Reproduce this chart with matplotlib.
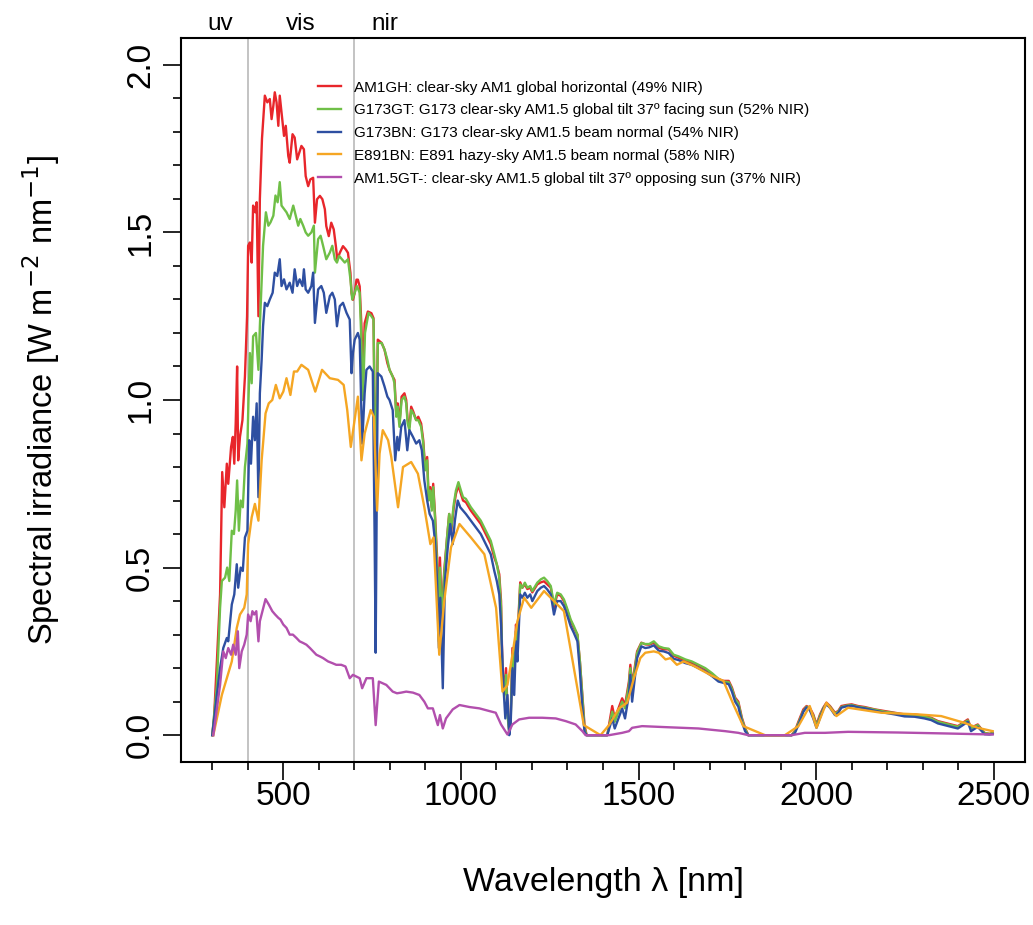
import numpy as np
import matplotlib
matplotlib.use("Agg")
import matplotlib.pyplot as plt
from matplotlib.ticker import FixedLocator
import matplotlib.transforms as mtransforms

plt.rcParams['font.family'] = ['Liberation Sans', 'DejaVu Sans']

# AM1GH: clear-sky AM1 global horizontal
AM1GH_WL = [300, 305, 313, 322, 328, 334, 341, 345, 353, 358, 362, 366, 370, 373, 378, 385, 392, 398,
            401, 406, 411, 415, 421, 425, 430, 434, 440, 448, 455, 462, 467, 472, 476, 481, 486, 490,
            495, 502, 507, 514, 518, 526, 532, 539, 545, 551, 558, 563, 570, 576, 584, 589, 595, 603,
            610, 617, 621, 628, 635, 642, 648, 652, 659, 668, 676, 682, 689, 692, 696, 701, 706, 710,
            715, 720, 724, 729, 734, 738, 748, 754, 760, 766, 777, 785, 793, 799, 808, 813, 818, 822,
            827, 833, 841, 846, 850, 855, 860, 866, 874, 880, 888, 894, 899, 905, 909, 914, 918, 922,
            927, 933, 938, 941, 946, 953, 961, 967, 972, 980, 986, 993, 1000, 1006, 1014, 1028, 1042,
            1056, 1070, 1084, 1094, 1101, 1108, 1113, 1117, 1122, 1127, 1131, 1136, 1140, 1145, 1150,
            1155, 1159, 1167, 1173, 1180, 1187, 1195, 1201, 1215, 1225, 1234, 1243, 1253, 1262, 1271,
            1281, 1290, 1300, 1309, 1318, 1328, 1335, 1342, 1348, 1354, 1412, 1426, 1433, 1440, 1454,
            1462, 1473, 1477, 1482, 1496, 1508, 1519, 1530, 1543, 1557, 1571, 1585, 1599, 1613, 1632,
            1650, 1669, 1688, 1707, 1725, 1739, 1754, 1763, 1772, 1781, 1791, 1800, 1809, 1931, 1940,
            1950, 1964, 1973, 1982, 1992, 2001, 2011, 2020, 2029, 2039, 2053, 2062, 2071, 2085, 2100,
            2118, 2137, 2165, 2193, 2221, 2249, 2277, 2305, 2324, 2343, 2361, 2380, 2399, 2427, 2436,
            2455, 2474, 2488, 2497]
AM1GH_E = [0.00, 0.05, 0.22, 0.42, 0.785, 0.68, 0.81, 0.75, 0.86, 0.89, 0.81, 0.93, 1.10, 0.82, 0.89, 0.94, 1.07, 1.25,
           1.46, 1.47, 1.41, 1.58, 1.56, 1.59, 1.25, 1.60, 1.78, 1.908, 1.888, 1.898, 1.838, 1.878, 1.918, 1.888, 1.818, 1.908,
           1.858, 1.788, 1.818, 1.728, 1.708, 1.793, 1.783, 1.718, 1.738, 1.758, 1.748, 1.668, 1.638, 1.658, 1.663, 1.529, 1.599, 1.609,
           1.599, 1.569, 1.519, 1.489, 1.529, 1.509, 1.459, 1.419, 1.439, 1.459, 1.449, 1.439, 1.379, 1.319, 1.299, 1.319, 1.359, 1.359,
           1.339, 1.219, 1.05, 1.229, 1.249, 1.264, 1.259, 1.244, 0.70, 1.18, 1.17, 1.15, 1.11, 1.09, 1.07, 1.06, 0.96, 0.99,
           0.93, 1.01, 1.02, 1.00, 0.94, 0.92, 0.98, 0.965, 0.94, 0.95, 0.93, 0.88, 0.80, 0.83, 0.71, 0.74, 0.68, 0.75,
           0.66, 0.53, 0.31, 0.53, 0.36, 0.49, 0.59, 0.66, 0.60, 0.68, 0.72, 0.745, 0.72, 0.70, 0.695, 0.67, 0.65,
           0.63, 0.60, 0.57, 0.53, 0.51, 0.48, 0.40, 0.19, 0.14, 0.20, 0.08, 0.01, 0.05, 0.26, 0.19,
           0.33, 0.29, 0.456, 0.44, 0.45, 0.436, 0.44, 0.426, 0.45, 0.456, 0.459, 0.45, 0.44, 0.38, 0.42,
           0.416, 0.40, 0.37, 0.34, 0.32, 0.30, 0.22, 0.12, 0.03, 0.0, 0.0, 0.087, 0.05, 0.07, 0.11,
           0.09, 0.16, 0.21, 0.15, 0.25, 0.276, 0.271, 0.27, 0.276, 0.261, 0.256, 0.256, 0.237, 0.231, 0.222,
           0.216, 0.207, 0.197, 0.182, 0.167, 0.162, 0.162, 0.142, 0.112, 0.10, 0.052, 0.022, 0.0, 0.0, 0.012,
           0.04, 0.077, 0.087, 0.082, 0.062, 0.032, 0.062, 0.082, 0.097, 0.087, 0.067, 0.072, 0.087, 0.09, 0.092,
           0.087, 0.084, 0.077, 0.072, 0.067, 0.062, 0.062, 0.057, 0.052, 0.042, 0.037, 0.032, 0.027, 0.047, 0.022,
           0.032, 0.007, 0.004, 0.007]

# G173GT: G173 clear-sky AM1.5 global tilt 37 deg facing sun
G173GT_WL = [300, 313, 322, 327, 336, 342, 348, 355, 361, 366, 370, 375, 380, 386, 392, 399, 402, 406,
             411, 415, 423, 430, 434, 443, 451, 458, 464, 472, 478, 484, 490, 495, 502, 509, 518, 528,
             535, 542, 548, 556, 563, 570, 579, 586, 589, 598, 605, 612, 621, 631, 638, 645, 651, 657,
             673, 682, 689, 694, 701, 707, 715, 720, 724, 730, 735, 740, 748, 754, 760, 766, 777, 785,
             793, 799, 808, 813, 818, 822, 827, 833, 841, 846, 850, 855, 860, 866, 874, 880, 888, 894,
             899, 905, 909, 914, 918, 922, 927, 933, 938, 941, 946, 953, 961, 967, 972, 980, 986, 993,
             1000, 1006, 1014, 1028, 1042, 1056, 1070, 1084, 1094, 1101, 1108, 1113, 1117, 1122, 1127,
             1131, 1136, 1140, 1145, 1150, 1155, 1159, 1167, 1173, 1180, 1187, 1195, 1201, 1215, 1225,
             1234, 1243, 1253, 1262, 1271, 1281, 1290, 1300, 1309, 1318, 1328, 1335, 1342, 1348, 1354,
             1412, 1426, 1433, 1440, 1454, 1462, 1473, 1477, 1482, 1496, 1508, 1519, 1530, 1543, 1557,
             1571, 1585, 1599, 1613, 1632, 1650, 1669, 1688, 1707, 1725, 1739, 1754, 1763, 1772, 1781,
             1791, 1800, 1809, 1931, 1940, 1950, 1964, 1973, 1982, 1992, 2001, 2011, 2020, 2029, 2039,
             2053, 2062, 2071, 2085, 2100, 2118, 2137, 2165, 2193, 2221, 2249, 2277, 2305, 2324, 2343,
             2361, 2380, 2399, 2427, 2436, 2455, 2474, 2488, 2497]
G173GT_E = [0.0, 0.15, 0.38, 0.46, 0.47, 0.50, 0.46, 0.61, 0.60, 0.67, 0.76, 0.61, 0.70, 0.68, 0.80, 0.87, 1.00, 1.14,
            1.05, 1.19, 1.20, 1.09, 1.22, 1.46, 1.56, 1.52, 1.53, 1.55, 1.61, 1.59, 1.65, 1.58, 1.57, 1.56, 1.54, 1.58,
            1.55, 1.52, 1.54, 1.52, 1.50, 1.49, 1.50, 1.52, 1.38, 1.48, 1.49, 1.46, 1.42, 1.44, 1.46, 1.42, 1.41, 1.43,
            1.41, 1.42, 1.36, 1.30, 1.32, 1.34, 1.32, 1.17, 1.00, 1.20, 1.23, 1.26, 1.25, 1.24, 0.68, 1.17, 1.17, 1.15,
            1.12, 1.09, 1.07, 1.05, 0.95, 0.98, 0.92, 1.00, 1.01, 0.99, 0.93, 0.91, 0.97, 0.96, 0.94, 0.94, 0.92, 0.87,
            0.79, 0.82, 0.70, 0.73, 0.67, 0.74, 0.65, 0.50, 0.28, 0.50, 0.33, 0.48, 0.59, 0.66, 0.61, 0.69, 0.73, 0.755,
            0.73, 0.71, 0.705, 0.68, 0.66, 0.64, 0.61, 0.58, 0.54, 0.51, 0.47, 0.38, 0.17, 0.12, 0.18,
            0.06, 0.01, 0.04, 0.24, 0.18, 0.31, 0.27, 0.45, 0.44, 0.455, 0.44, 0.445, 0.43, 0.455, 0.465,
            0.47, 0.46, 0.445, 0.39, 0.425, 0.42, 0.405, 0.375, 0.345, 0.325, 0.30, 0.22, 0.11, 0.02, 0.0,
            0.0, 0.07, 0.04, 0.06, 0.10, 0.08, 0.15, 0.20, 0.14, 0.245, 0.275, 0.272, 0.272, 0.28, 0.265,
            0.26, 0.258, 0.24, 0.235, 0.226, 0.22, 0.21, 0.20, 0.185, 0.168, 0.16, 0.158, 0.138, 0.108, 0.095,
            0.048, 0.018, 0.0, 0.0, 0.01, 0.036, 0.072, 0.085, 0.078, 0.058, 0.028, 0.058, 0.08, 0.094, 0.085,
            0.064, 0.07, 0.084, 0.088, 0.09, 0.085, 0.082, 0.076, 0.07, 0.066, 0.06, 0.06, 0.055, 0.05, 0.04,
            0.035, 0.03, 0.025, 0.044, 0.02, 0.03, 0.006, 0.004, 0.006]

# G173BN: G173 clear-sky AM1.5 beam normal
G173BN_WL = [300, 313, 322, 331, 341, 345, 355, 362, 369, 373, 380, 386, 392, 399, 404, 409, 415, 420,
             425, 430, 434, 439, 443, 448, 455, 462, 470, 476, 483, 490, 495, 502, 509, 518, 526, 532,
             539, 546, 554, 558, 563, 570, 579, 584, 589, 598, 607, 614, 621, 631, 638, 645, 651, 659,
             668, 678, 687, 692, 696, 701, 710, 715, 722, 729, 734, 743, 752, 757, 760, 763, 766, 776,
             785, 793, 799, 808, 815, 821, 825, 832, 841, 849, 855, 865, 874, 883, 890, 897, 905, 912,
             921, 927, 933, 938, 942, 949, 955, 963, 970, 977, 983, 991, 998, 1006, 1014, 1028, 1042,
             1056, 1070, 1084, 1094, 1101, 1108, 1113, 1120, 1125, 1131, 1136, 1140, 1145, 1150, 1155,
             1159, 1167, 1173, 1180, 1187, 1195, 1201, 1215, 1225, 1234, 1243, 1253, 1262, 1271, 1281,
             1290, 1300, 1309, 1318, 1328, 1335, 1342, 1348, 1354, 1412, 1426, 1433, 1440, 1454, 1462,
             1473, 1477, 1482, 1496, 1508, 1519, 1530, 1543, 1557, 1571, 1585, 1599, 1613, 1632, 1650,
             1669, 1688, 1707, 1725, 1739, 1754, 1763, 1772, 1781, 1791, 1800, 1809, 1931, 1940, 1950,
             1964, 1973, 1982, 1992, 2001, 2011, 2020, 2029, 2039, 2053, 2062, 2071, 2085, 2100, 2118,
             2137, 2165, 2193, 2221, 2249, 2277, 2305, 2324, 2343, 2361, 2380, 2399, 2427, 2436, 2455,
             2474, 2488, 2497]
G173BN_E = [0.0, 0.12, 0.20, 0.26, 0.29, 0.28, 0.39, 0.42, 0.51, 0.44, 0.50, 0.49, 0.59, 0.61, 0.88, 0.81, 0.95, 0.88,
            0.99, 0.71, 1.02, 1.12, 1.22, 1.29, 1.28, 1.30, 1.32, 1.38, 1.37, 1.42, 1.34, 1.36, 1.33, 1.35, 1.32, 1.39,
            1.34, 1.36, 1.34, 1.39, 1.33, 1.32, 1.34, 1.38, 1.23, 1.33, 1.34, 1.32, 1.26, 1.31, 1.32, 1.30, 1.22, 1.28,
            1.29, 1.26, 1.24, 1.08, 1.14, 1.18, 1.20, 1.18, 0.87, 1.02, 1.09, 1.10, 1.085, 0.60, 0.246, 0.70, 1.08, 1.07,
            1.04, 1.01, 1.00, 0.97, 0.82, 0.89, 0.85, 0.92, 0.94, 0.85, 0.91, 0.89, 0.87, 0.88, 0.85, 0.76, 0.70, 0.66,
            0.64, 0.58, 0.46, 0.26, 0.41, 0.14, 0.46, 0.56, 0.63, 0.57, 0.64, 0.70, 0.68, 0.67, 0.66, 0.64, 0.62,
            0.60, 0.57, 0.54, 0.49, 0.46, 0.42, 0.33, 0.14, 0.05, 0.12, 0.0, 0.03, 0.20, 0.12, 0.28,
            0.22, 0.42, 0.41, 0.425, 0.41, 0.42, 0.40, 0.43, 0.44, 0.445, 0.435, 0.42, 0.36, 0.40, 0.40,
            0.385, 0.355, 0.325, 0.305, 0.28, 0.19, 0.08, 0.01, 0.0, 0.0, 0.05, 0.02, 0.04, 0.08, 0.05,
            0.12, 0.18, 0.10, 0.23, 0.265, 0.26, 0.262, 0.268, 0.252, 0.25, 0.245, 0.228, 0.224, 0.215, 0.21,
            0.20, 0.19, 0.176, 0.16, 0.156, 0.152, 0.13, 0.10, 0.085, 0.04, 0.012, 0.0, 0.0, 0.006, 0.03,
            0.07, 0.083, 0.075, 0.05, 0.022, 0.052, 0.078, 0.092, 0.082, 0.06, 0.066, 0.082, 0.086, 0.088, 0.083,
            0.08, 0.073, 0.067, 0.062, 0.056, 0.055, 0.05, 0.045, 0.035, 0.03, 0.025, 0.02, 0.04, 0.012, 0.025,
            0.003, 0.002, 0.004]

# E891BN: E891 hazy-sky AM1.5 beam normal
E891BN_WL = [303, 327, 341, 355, 369, 378, 390, 397, 401, 411, 420, 430, 439, 443, 450, 459, 469, 479,
             490, 500, 509, 520, 530, 539, 551, 570, 590, 609, 631, 654, 670, 680, 690, 710, 720, 729,
             746, 755, 764, 771, 780, 795, 804, 823, 837, 860, 879, 897, 914, 923, 939, 953, 972, 996,
             1028, 1066, 1099, 1117, 1131, 1145, 1159, 1178, 1198, 1234, 1290, 1318, 1346, 1393, 1417,
             1445, 1468, 1487, 1505, 1519, 1543, 1557, 1576, 1590, 1608, 1627, 1655, 1707, 1739, 1767,
             1795, 1856, 1912, 1950, 1982, 2001, 2029, 2057, 2090, 2183, 2287, 2352, 2417, 2455, 2497]
E891BN_E = [0.0, 0.12, 0.17, 0.22, 0.32, 0.36, 0.38, 0.42, 0.57, 0.65, 0.69, 0.64, 0.82, 0.87, 0.96, 0.99, 1.00, 1.045,
            1.005, 1.025, 1.065, 1.015, 1.085, 1.085, 1.105, 1.09, 1.025, 1.09, 1.065, 1.06, 1.045, 0.97, 0.86, 1.01, 0.82, 0.90,
            0.97, 0.95, 0.67, 0.84, 0.91, 0.88, 0.83, 0.68, 0.80, 0.815, 0.78, 0.68, 0.57, 0.59, 0.24, 0.40, 0.56, 0.63,
            0.59, 0.54, 0.38, 0.13, 0.15, 0.24, 0.34, 0.41, 0.38, 0.43, 0.37, 0.20, 0.03, 0.0, 0.03,
            0.08, 0.097, 0.17, 0.23, 0.246, 0.25, 0.246, 0.226, 0.23, 0.21, 0.22, 0.207, 0.177, 0.162, 0.092,
            0.027, 0.0, 0.0, 0.027, 0.087, 0.022, 0.097, 0.057, 0.082, 0.067, 0.062, 0.057, 0.037, 0.022, 0.012]

# AM1.5GT-: clear-sky AM1.5 global tilt 37 deg opposing sun
AM15GTN_WL = [303, 322, 331, 338, 345, 353, 359, 366, 372, 376, 383, 390, 397, 401, 408, 413, 418, 424,
              430, 434, 450, 459, 469, 477, 486, 492, 500, 509, 518, 527, 537, 546, 556, 565, 575, 584,
              593, 603, 612, 626, 638, 649, 663, 675, 687, 696, 715, 722, 734, 752, 760, 769, 790, 808,
              820, 832, 846, 865, 883, 897, 907, 921, 935, 941, 949, 958, 977, 996, 1024, 1052, 1080,
              1098, 1113, 1131, 1145, 1164, 1192, 1229, 1267, 1295, 1323, 1342, 1351, 1417, 1454, 1473,
              1482, 1510, 1576, 1669, 1744, 1781, 1809, 1931, 1968, 2025, 2090, 2230, 2371, 2497]
AM15GTN_E = [0.0, 0.15, 0.25, 0.23, 0.26, 0.24, 0.27, 0.24, 0.31, 0.20, 0.25, 0.27, 0.30, 0.36, 0.34, 0.37, 0.36, 0.37,
             0.28, 0.34, 0.406, 0.39, 0.37, 0.36, 0.35, 0.345, 0.33, 0.32, 0.30, 0.30, 0.29, 0.28, 0.275, 0.27, 0.26, 0.25,
             0.24, 0.235, 0.23, 0.22, 0.215, 0.21, 0.21, 0.205, 0.17, 0.18, 0.17, 0.14, 0.17, 0.17, 0.03, 0.16, 0.15, 0.13,
             0.125, 0.127, 0.13, 0.127, 0.12, 0.10, 0.08, 0.08, 0.03, 0.06, 0.02, 0.05, 0.077, 0.09, 0.084, 0.08, 0.072,
             0.067, 0.032, 0.002, 0.032, 0.047, 0.052, 0.052, 0.05, 0.042, 0.032, 0.012, 0.0, 0.0, 0.007, 0.012,
             0.022, 0.027, 0.024, 0.02, 0.012, 0.007, 0.0, 0.0, 0.007, 0.007, 0.01, 0.008, 0.005, 0.002]

SERIES = [
    (AM1GH_WL, AM1GH_E, "#E8262B", "AM1GH: clear-sky AM1 global horizontal (49% NIR)"),
    (G173GT_WL, G173GT_E, "#6FBF47", "G173GT: G173 clear-sky AM1.5 global tilt 37º facing sun (52% NIR)"),
    (G173BN_WL, G173BN_E, "#2E4FA1", "G173BN: G173 clear-sky AM1.5 beam normal (54% NIR)"),
    (E891BN_WL, E891BN_E, "#F5A623", "E891BN: E891 hazy-sky AM1.5 beam normal (58% NIR)"),
    (AM15GTN_WL, AM15GTN_E, "#B24FAD", "AM1.5GT-: clear-sky AM1.5 global tilt 37º opposing sun (37% NIR)"),
]

BAND_EDGES = [400, 700]
BAND_LABELS = ["uv", "vis", "nir"]
BAND_LABEL_POS = [322, 550, 785]

fig = plt.figure(figsize=(10.33, 9.25), dpi=100)
ax = fig.add_axes([181 / 1033, 1 - 762 / 925, 844 / 1033, 724 / 925])

for e in BAND_EDGES:
    ax.axvline(e, color="#BEBEBE", lw=1.3, zorder=1)

for wl, e, col, lab in SERIES:
    ax.plot(wl, e, color=col, lw=1.7, label=lab, zorder=2)

ax.set_xlim(212, 2588)
ax.set_ylim(-0.08, 2.08)
ax.set_xticks([500, 1000, 1500, 2000, 2500])
ax.set_yticks([0.0, 0.5, 1.0, 1.5, 2.0])
ax.set_yticklabels(["0.0", "0.5", "1.0", "1.5", "2.0"], rotation=90, va="center")
ax.xaxis.set_minor_locator(FixedLocator(np.arange(300, 2501, 100)))
ax.yaxis.set_minor_locator(FixedLocator(np.linspace(0, 2, 21)))
ax.tick_params(which="major", length=13, width=1.2, labelsize=24, pad=5)
ax.tick_params(which="minor", length=6, width=1.2)
ax.tick_params(axis="x", which="major", pad=1)
for s in ax.spines.values():
    s.set_linewidth(1.5)

ax.set_xlabel("Wavelength λ [nm]", fontsize=24.5, labelpad=39)
ax.set_ylabel("Spectral irradiance [W m$^{-2}$ nm$^{-1}$]", fontsize=23.5, labelpad=45)

trans = mtransforms.blended_transform_factory(ax.transData, ax.transAxes)
for lab, x in zip(BAND_LABELS, BAND_LABEL_POS):
    ax.text(x, 1.02, lab, transform=trans, ha="center", va="center", fontsize=17.5)

ax.legend(loc="upper left", bbox_to_anchor=(0.162, 0.941), frameon=False, fontsize=11,
          handlelength=1.55, handletextpad=0.85, labelspacing=0.57, borderpad=0, borderaxespad=0)

fig.savefig("out.png", dpi=100)
